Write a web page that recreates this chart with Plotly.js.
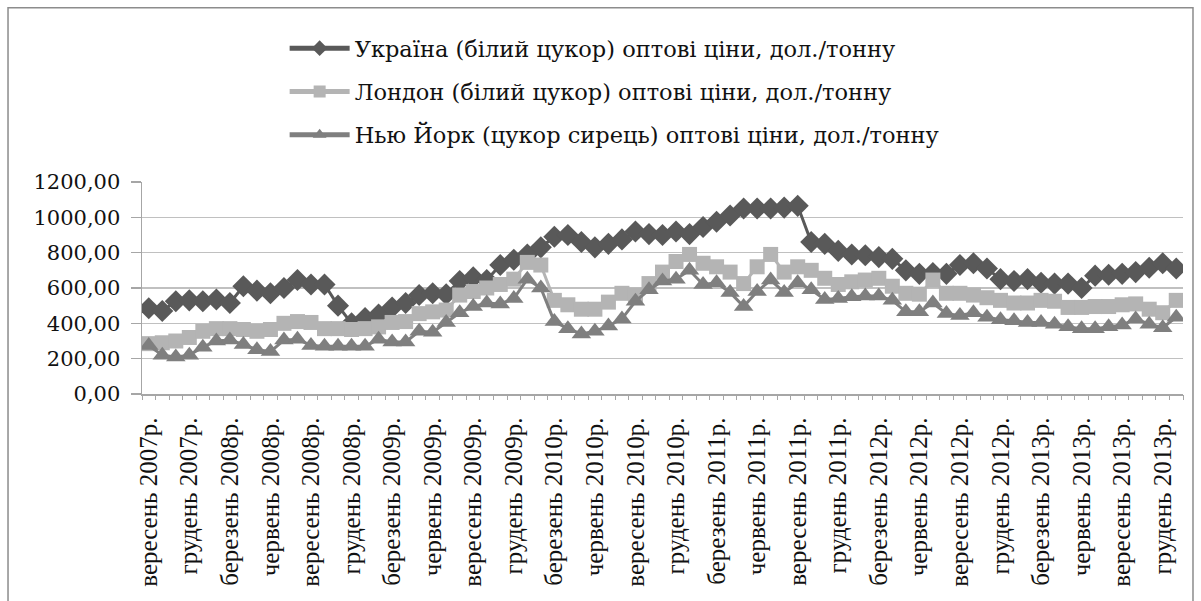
<!DOCTYPE html>
<html>
<head>
<meta charset="utf-8">
<script src="https://cdn.plot.ly/plotly-3.0.1.min.js"></script>
<style>html,body{margin:0;padding:0;background:#fff;}#chart{width:1201px;height:601px;}</style>
</head>
<body>
<div id="chart"></div>
<script>
const months = ["вересень","жовтень","листопад","грудень","січень","лютий","березень","квітень","травень","червень","липень","серпень"];
const categories = [];
(function(){ let y = 2007; for (let i = 0; i < 77; i++) { const m = months[i % 12]; if (m === "січень" && i > 0) y++; categories.push(m + " " + y + "р."); } })();

const ukraine = [485,470,525,530,525,535,515,610,585,570,600,645,620,620,500,400,430,450,490,515,
  560,570,565,640,660,645,730,760,790,830,890,900,860,830,850,875,920,905,900,920,
  905,945,975,1010,1050,1050,1050,1055,1065,860,850,810,790,785,775,765,700,680,685,680,
  730,740,710,650,640,650,630,625,625,600,670,675,680,690,715,740,710];
const london = [285,290,300,320,355,370,370,365,355,365,400,410,405,370,370,365,370,380,405,410,
  455,465,475,560,580,600,620,650,745,730,530,505,480,480,520,570,560,625,690,750,
  790,740,720,690,625,720,790,690,720,700,655,620,635,645,655,610,570,565,645,570,
  570,560,545,530,515,515,530,525,490,490,495,495,505,510,480,460,530];
const newyork = [275,220,210,220,265,300,305,280,250,240,305,310,275,270,270,270,270,310,295,295,
  355,350,405,460,495,515,510,540,650,600,410,370,340,355,385,425,525,590,640,650,
  700,620,630,575,495,580,645,575,630,590,535,540,550,555,555,530,465,465,515,455,
  445,460,435,420,415,405,405,395,380,370,370,380,390,425,395,375,435];

const seriesNames = ["Україна (білий цукор) оптові ціни, дол./тонну","Лондон (білий цукор) оптові ціни, дол./тонну","Нью Йорк (цукор сирець) оптові ціни, дол./тонну"];
const yTickVals = [0,200,400,600,800,1000,1200];
const yTickText = ["0,00","200,00","400,00","600,00","800,00","1000,00","1200,00"];
const xTickVals = categories.filter((c,i) => i % 3 === 0);

const serifX = {family: "Liberation Serif, Times New Roman, serif", size: 25, color: "#111"};
const serifY = {family: "DejaVu Serif, serif", size: 21, color: "#111"};
const serifL = {family: "DejaVu Serif, serif", size: 22.5, color: "#111"};

const data = [
  {x: categories, y: ukraine, name: seriesNames[0], type: "scatter", mode: "lines+markers", legendgroup: "a",
   line: {color: "#595959", width: 3}, marker: {symbol: "diamond", size: 17, color: "#595959"}},
  {x: categories, y: london, name: seriesNames[1], type: "scatter", mode: "lines+markers", legendgroup: "b",
   line: {color: "#b4b4b4", width: 3}, marker: {symbol: "square", size: 15, color: "#b4b4b4"}},
  {x: categories, y: newyork, name: seriesNames[2], type: "scatter", mode: "lines+markers", legendgroup: "c",
   line: {color: "#7f7f7f", width: 3}, marker: {symbol: "triangle-up", size: 17, color: "#7f7f7f"}},
  {x: categories, y: categories.map(() => null), xaxis: "x2", type: "scatter", mode: "lines", showlegend: false, hoverinfo: "skip"}
];

const layout = {
  width: 1201, height: 601,
  paper_bgcolor: "#fff", plot_bgcolor: "#fff",
  margin: {l: 142, r: 18, t: 182, b: 207, autoexpand: false},
  font: serifL,
  showlegend: true,
  legend: {xref: "container", yref: "container", x: 0.237, y: 0.955, xanchor: "left", yanchor: "top",
    orientation: "v", traceorder: "grouped", tracegroupgap: 11, itemwidth: 60, itemsizing: "constant",
    font: serifL, bgcolor: "rgba(0,0,0,0)"},
  xaxis: {type: "category", categoryarray: categories, range: [-0.5, 76.5],
    tickmode: "array", tickvals: xTickVals, ticktext: xTickVals, tickangle: -90,
    ticks: "", showgrid: false, showline: true, linecolor: "#a6a6a6", linewidth: 1.5,
    ticklabelstandoff: 12, tickfont: serifX, automargin: false, zeroline: false},
  xaxis2: {type: "category", categoryarray: categories, range: [-0.5, 76.5], overlaying: "x", anchor: "y",
    tickson: "boundaries", dtick: 1, ticks: "outside", ticklen: 5, tickcolor: "#a6a6a6", tickwidth: 1,
    showticklabels: false, showgrid: false, showline: false, zeroline: false},
  yaxis: {range: [0, 1200], tickmode: "array", tickvals: yTickVals, ticktext: yTickText,
    showgrid: true, gridcolor: "#c0c0c0", gridwidth: 1.5, zeroline: false,
    showline: true, linecolor: "#a6a6a6", linewidth: 1.5,
    ticks: "outside", ticklen: 10, tickcolor: "#a6a6a6", tickwidth: 1.5,
    ticklabelstandoff: 6, tickfont: serifY, automargin: false},
  shapes: [{type: "rect", xref: "paper", yref: "paper", x0: -0.1287, x1: 1.0096, y0: -1.05, y1: 1.822,
    line: {color: "#8c8c8c", width: 1.5}, fillcolor: "rgba(0,0,0,0)", layer: "below"}]
};

Plotly.newPlot("chart", data, layout, {displayModeBar: false, staticPlot: true});
</script>
</body>
</html>
